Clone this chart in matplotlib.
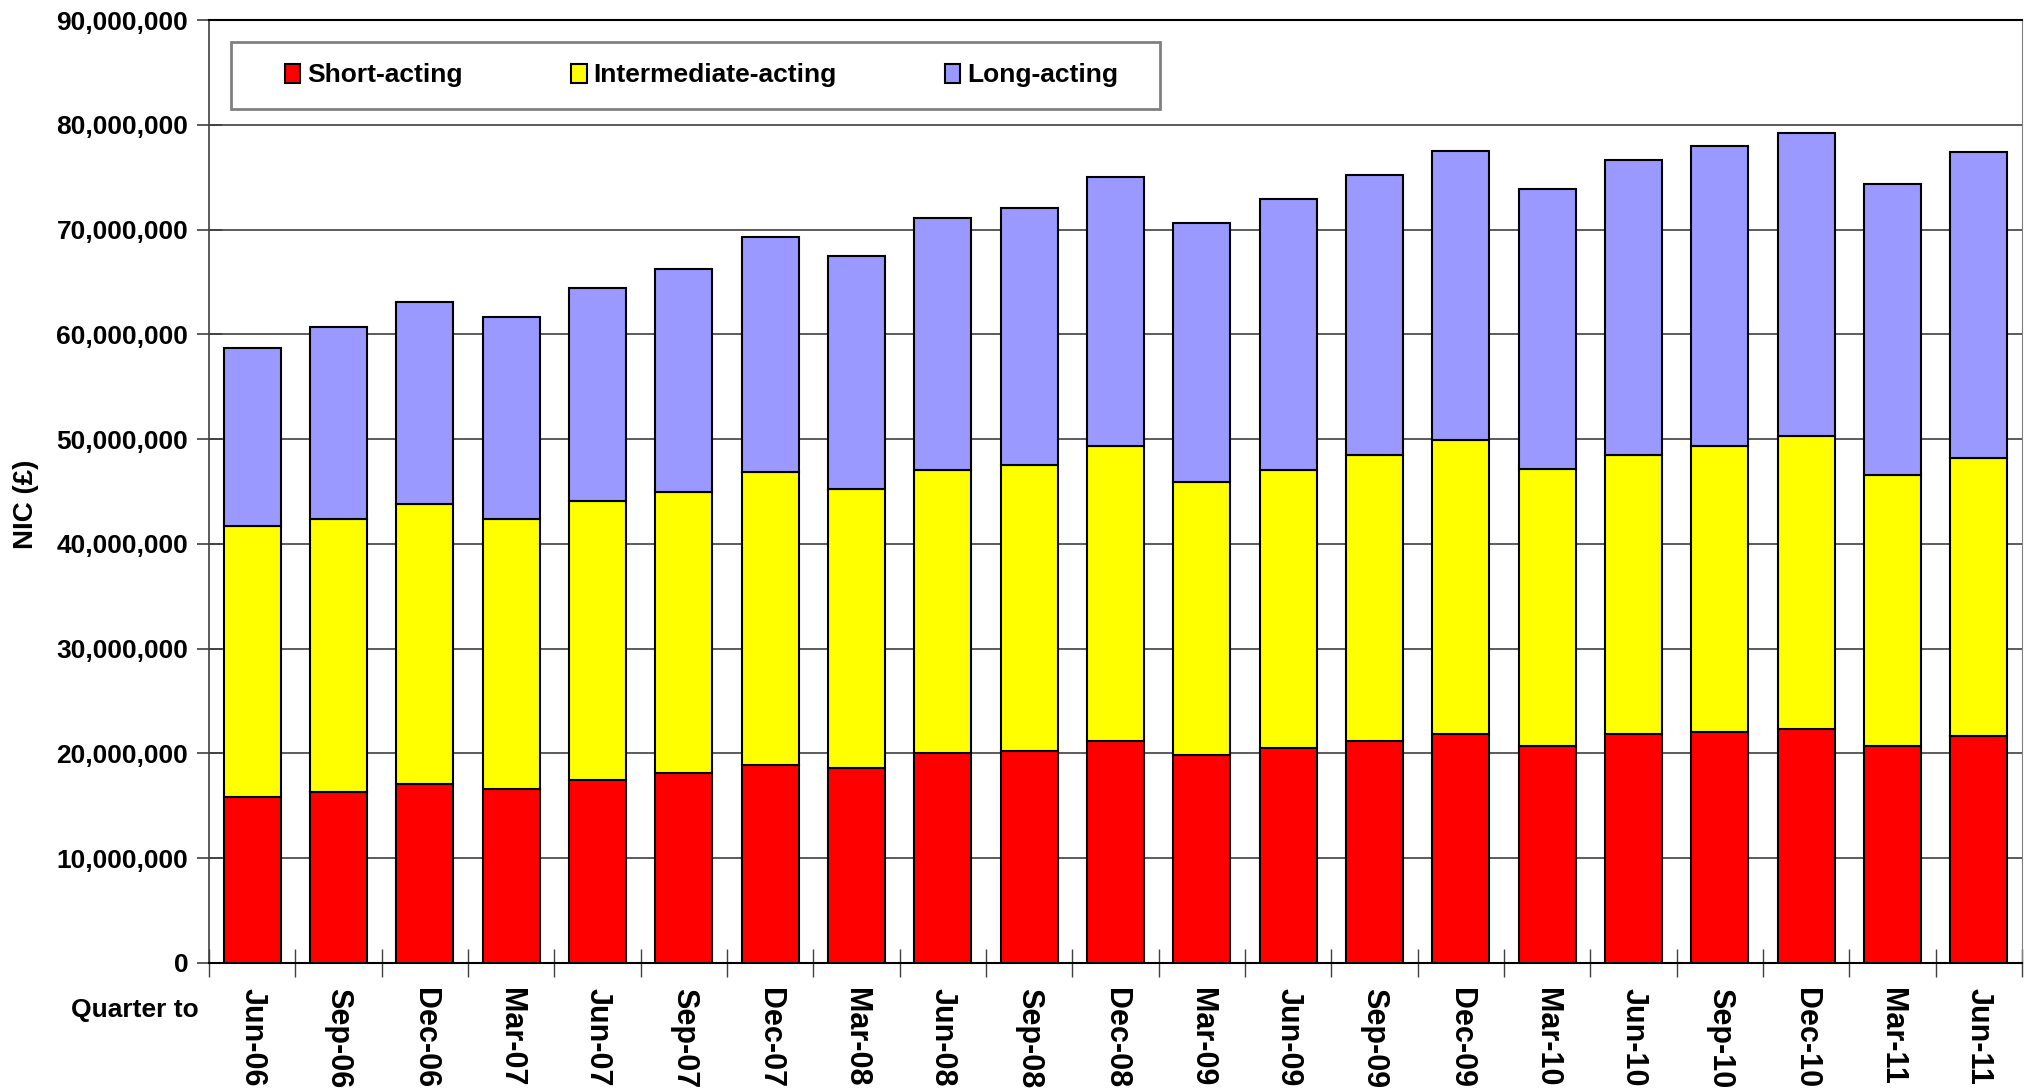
import matplotlib
matplotlib.use("Agg")
import matplotlib.pyplot as plt
from matplotlib.patches import Rectangle
from matplotlib.ticker import StrMethodFormatter, FixedLocator
import numpy as np

plt.rcParams['font.family'] = ['Liberation Sans', 'DejaVu Sans']
plt.rcParams['font.weight'] = 'bold'

# quarterly NIC (GBP) by insulin type
quarters = ['Jun-06', 'Sep-06', 'Dec-06', 'Mar-07', 'Jun-07', 'Sep-07', 'Dec-07',
            'Mar-08', 'Jun-08', 'Sep-08', 'Dec-08', 'Mar-09', 'Jun-09', 'Sep-09',
            'Dec-09', 'Mar-10', 'Jun-10', 'Sep-10', 'Dec-10', 'Mar-11', 'Jun-11']
short_acting = [15880000, 16360000, 17060000, 16580000, 17480000, 18180000, 18880000,
                18630000, 20030000, 20220000, 21180000, 19810000, 20480000, 21150000,
                21850000, 20700000, 21850000, 22080000, 22330000, 20700000, 21630000]
intermediate_acting = [25860000, 26030000, 26780000, 25840000, 26650000, 26820000, 27990000,
                       26600000, 27030000, 27330000, 28210000, 26130000, 26580000, 27330000,
                       28020000, 26400000, 26630000, 27310000, 27990000, 25910000, 26600000]
long_acting = [16920000, 18340000, 19230000, 19240000, 20280000, 21260000, 22430000,
               22210000, 24060000, 24490000, 25630000, 24700000, 25880000, 26760000,
               27670000, 26800000, 28170000, 28630000, 28880000, 27740000, 29150000]

colors = ['#FF0000', '#FFFF00', '#9999FF']
labels = ['Short-acting', 'Intermediate-acting', 'Long-acting']

W, H = 2027, 1091
fig = plt.figure(figsize=(W / 100, H / 100), dpi=100)
ax = fig.add_axes([209 / W, 1 - 963 / H, (2022 - 209) / W, (963 - 20) / H])

x = np.arange(len(quarters))
s = np.array(short_acting)
i = np.array(intermediate_acting)
l = np.array(long_acting)
bw = 0.66
ax.bar(x, s, bw, color=colors[0], edgecolor='black', linewidth=1.5, label=labels[0], zorder=3)
ax.bar(x, i, bw, bottom=s, color=colors[1], edgecolor='black', linewidth=1.5, label=labels[1], zorder=3)
ax.bar(x, l, bw, bottom=s + i, color=colors[2], edgecolor='black', linewidth=1.5, label=labels[2], zorder=3)

ax.set_xlim(-0.5, len(quarters) - 0.5)
ax.set_ylim(0, 90000000)
ax.set_yticks(np.arange(0, 90000001, 10000000))
ax.yaxis.set_major_formatter(StrMethodFormatter('{x:,.0f}'))
ax.yaxis.grid(True, color='#404040', linewidth=1.2, zorder=0)
ax.set_axisbelow(True)

ax.set_xticks(x)
ax.set_xticklabels(quarters, rotation=270, fontsize=22, fontweight='bold')
ax.xaxis.set_minor_locator(FixedLocator(np.arange(-0.5, len(quarters), 1.0)))
ax.tick_params(axis='x', which='major', length=0, pad=18)
ax.tick_params(axis='x', which='minor', direction='inout', length=20, width=1, color='#404040')
ax.tick_params(axis='y', direction='inout', length=18, width=1.2, pad=6, labelsize=19, color='#404040')
for t in ax.get_yticklabels():
    t.set_fontweight('bold')

ax.spines['top'].set_color('black')
ax.spines['top'].set_linewidth(1.5)
ax.spines['right'].set_color('#808080')
ax.spines['left'].set_color('#404040')
ax.spines['left'].set_linewidth(1.2)
ax.spines['bottom'].set_linewidth(1.5)

# legend box
box = Rectangle((231 / W, 1 - 109 / H), (1160 - 231) / W, (109 - 42) / H,
                transform=fig.transFigure, facecolor='white',
                edgecolor='#808080', linewidth=2, zorder=5, clip_on=False)
ax.add_artist(box)
leg = ax.legend(loc='center left', bbox_to_anchor=(274 / W, 1 - 75.5 / H),
                bbox_transform=fig.transFigure, ncol=3, frameon=False,
                fontsize=19, handlelength=0.6, handleheight=0.76,
                handletextpad=0.25, columnspacing=4.1, borderaxespad=0)
leg.set_zorder(6)
for t in leg.get_texts():
    t.set_fontweight('bold')

fig.text(199 / W, 1 - 1010 / H, 'Quarter to', ha='right', va='center', fontsize=19, fontweight='bold')
fig.text(26 / W, 1 - 504 / H, 'NIC (£)', ha='center', va='center', rotation=90, fontsize=20, fontweight='bold')

fig.savefig('out.png', dpi=100)
